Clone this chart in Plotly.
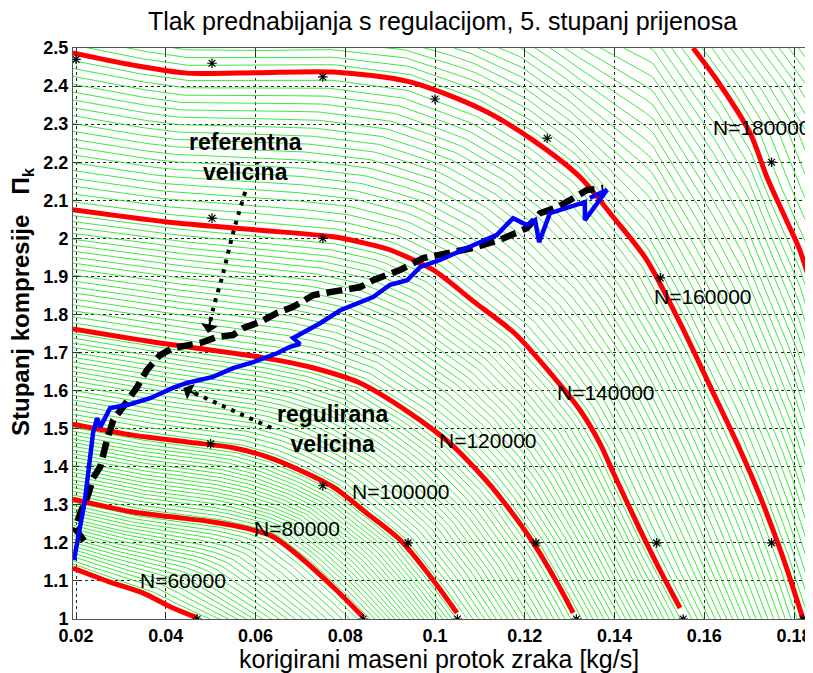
import numpy as np
import plotly.graph_objects as go

# ---------------- data ----------------
speeds = [60000, 80000, 100000, 120000, 140000, 160000, 180000]
speed_labels = ["N=60000", "N=80000", "N=100000", "N=120000", "N=140000", "N=160000", "N=180000"]
label_x = [0.0338, 0.0592, 0.0811, 0.1004, 0.1267, 0.1484, 0.1614]
label_y = [1.102, 1.239, 1.334, 1.470, 1.594, 1.846, 2.292]

n60_x = [0.0193, 0.0276, 0.0350, 0.0410, 0.0470]
n60_y = [1.134, 1.097, 1.068, 1.032, 1.003]

n80_x = [0.0193, 0.0327, 0.0416, 0.0505, 0.0581, 0.0639, 0.0699, 0.0773, 0.0840]
n80_y = [1.315, 1.281, 1.268, 1.255, 1.238, 1.216, 1.163, 1.084, 1.005]

n100_x = [0.0193, 0.0327, 0.0447, 0.0550, 0.0626, 0.0699, 0.0773, 0.0848, 0.0922, 0.0996, 0.1049]
n100_y = [1.512, 1.483, 1.465, 1.450, 1.426, 1.391, 1.347, 1.278, 1.208, 1.102, 1.016]

n120_x = [0.0193, 0.0387, 0.0610, 0.0721, 0.0833, 0.0944, 0.1033, 0.1107, 0.1145, 0.1219, 0.1272, 0.1308]
n120_y = [1.762, 1.725, 1.688, 1.662, 1.620, 1.541, 1.462, 1.373, 1.320, 1.200, 1.095, 1.016]

n140_x = [0.0193, 0.0403, 0.0603, 0.0773, 0.0848, 0.0899, 0.0996, 0.1085, 0.1178, 0.1257, 0.1323, 0.1368, 0.1397, 0.1457, 0.1501, 0.1546]
n140_y = [2.075, 2.043, 2.022, 2.004, 1.986, 1.970, 1.917, 1.835, 1.750, 1.646, 1.549, 1.460, 1.385, 1.234, 1.129, 1.029]

n160_x = [0.0193, 0.0327, 0.0447, 0.0603, 0.0773, 0.0944, 0.1107, 0.1218, 0.1323, 0.1397, 0.1472, 0.1546, 0.1620, 0.1680, 0.1725, 0.1775, 0.1820]
n160_y = [2.487, 2.455, 2.434, 2.435, 2.437, 2.411, 2.337, 2.258, 2.161, 2.056, 1.943, 1.778, 1.594, 1.444, 1.320, 1.163, 1.000]

n180_x = [0.1575, 0.1628, 0.1702, 0.1740, 0.1784, 0.1813, 0.1842]
n180_y = [2.500, 2.416, 2.277, 2.160, 2.045, 1.969, 1.860]

# measured map points (stars)
star_x = [0.0200, 0.0503, 0.0750, 0.1000, 0.1250, 0.1750, 0.1502, 0.0503, 0.0750,
          0.0500, 0.0750, 0.0940, 0.1225, 0.1494, 0.1750, 0.1050, 0.1315, 0.1553, 0.1820, 0.0470, 0.0840]
star_y = [2.470, 2.460, 2.424, 2.366, 2.263, 2.200, 1.896, 2.053, 2.000,
          1.460, 1.350, 1.200, 1.200, 1.200, 1.200, 1.000, 1.000, 1.000, 1.000, 1.000, 1.000]

# reference (referentna velicina) - black dashed
ref_x = [0.0218, 0.0198, 0.0210, 0.0227, 0.0238, 0.0254, 0.0269, 0.0283, 0.0305, 0.0336, 0.0358,
         0.0387, 0.0416, 0.0447, 0.0477, 0.0514, 0.0550, 0.0572, 0.0610, 0.0648, 0.0684, 0.0729,
         0.0759, 0.0789, 0.0833, 0.0862, 0.0922, 0.0974, 0.1012, 0.1085, 0.1145, 0.1205, 0.1234,
         0.1273, 0.1309, 0.1339, 0.1375]
ref_y = [1.205, 1.238, 1.280, 1.326, 1.370, 1.400, 1.470, 1.523, 1.557, 1.609, 1.654,
         1.693, 1.712, 1.720, 1.725, 1.741, 1.746, 1.764, 1.780, 1.804, 1.820, 1.851,
         1.856, 1.862, 1.872, 1.890, 1.917, 1.948, 1.956, 1.975, 1.996, 2.027, 2.066,
         2.082, 2.106, 2.127, 2.132]

# regulated (regulirana velicina) - blue
reg_x = [0.01955, 0.0220, 0.0238, 0.0247, 0.0254, 0.0267, 0.0276, 0.0314, 0.0365, 0.0416, 0.0447,
         0.0505, 0.0550, 0.0595, 0.0648, 0.0677, 0.0699, 0.0684, 0.0744, 0.0789, 0.0862, 0.0900,
         0.0938, 0.0967, 0.1011, 0.1085, 0.1138, 0.1174, 0.1205, 0.1223, 0.1232, 0.1256, 0.1301,
         0.1334, 0.1334, 0.1383, 0.1345]
reg_y = [1.155, 1.313, 1.489, 1.528, 1.504, 1.536, 1.554, 1.562, 1.580, 1.607, 1.620,
         1.636, 1.659, 1.675, 1.698, 1.715, 1.722, 1.738, 1.777, 1.811, 1.846, 1.878,
         1.890, 1.925, 1.943, 1.982, 2.009, 2.053, 2.035, 2.048, 1.990, 2.066, 2.082,
         2.095, 2.048, 2.127, 2.106]

# annotation arrows (dotted)
arr_ref_x = [0.0577, 0.0550, 0.0528, 0.0505, 0.0494]
arr_ref_y = [2.122, 2.014, 1.909, 1.812, 1.751]
arr_reg_x = [0.0635, 0.0439]
arr_reg_y = [1.502, 1.607]

x_ticks = [0.02, 0.04, 0.06, 0.08, 0.10, 0.12, 0.14, 0.16, 0.18]
x_ticktext = ["0.02", "0.04", "0.06", "0.08", "0.1", "0.12", "0.14", "0.16", "0.18"]
y_ticks = [1.0, 1.1, 1.2, 1.3, 1.4, 1.5, 1.6, 1.7, 1.8, 1.9, 2.0, 2.1, 2.2, 2.3, 2.4, 2.5]
y_ticktext = ["1", "1.1", "1.2", "1.3", "1.4", "1.5", "1.6", "1.7", "1.8", "1.9",
              "2", "2.1", "2.2", "2.3", "2.4", "2.5"]

x_range = [0.01933, 0.18401]
y_range = [1.0, 2.5]

curves = [(n60_x, n60_y), (n80_x, n80_y), (n100_x, n100_y), (n120_x, n120_y),
          (n140_x, n140_y), (n160_x, n160_y), (n180_x, n180_y)]

# ------------- fine speed lines (every 1000 rpm) blended between the red speed lines -------------
SX, SY = 0.18, 1.6   # normalisation so that x and y count equally along a curve
NS = 300


def resampled(xs, ys, lead=0.06, tail=0.07):
    u = np.asarray(xs, float) / SX
    v = np.asarray(ys, float) / SY
    d0 = np.array([u[0] - u[1], v[0] - v[1]]); d0 /= np.hypot(*d0)
    d1 = np.array([u[-1] - u[-2], v[-1] - v[-2]]); d1 /= np.hypot(*d1)
    u = np.concatenate([[u[0] + lead * d0[0]], u, [u[-1] + tail * d1[0]]])
    v = np.concatenate([[v[0] + lead * d0[1]], v, [v[-1] + tail * d1[1]]])
    s = np.concatenate([[0.0], np.cumsum(np.hypot(np.diff(u), np.diff(v)))])
    s /= s[-1]
    t = np.linspace(0.0, 1.0, NS)
    return np.interp(t, s, u) * SX, np.interp(t, s, v) * SY


res = [resampled(xs, ys) for xs, ys in curves]

# The N=180000 line leaves the plot at the top; continue it above the plot
# with the 140000->160000 spacing so the fine lines above N=160000 stay parallel.
(x14, y14), (x16, y16) = res[4], res[5]
gx_pred, gy_pred = 2 * x16 - x14, 2 * y16 - y14
keep = np.where((gy_pred > 2.68) & (gx_pred < 0.128))[0]
keep = keep[: np.argmax(np.diff(np.concatenate([keep, [10 ** 6]])) > 1) + 1]
hx, hy = resampled(n180_x, n180_y, lead=0.0, tail=0.07)
top_dir = np.array([n180_x[0] - n180_x[1], n180_y[0] - n180_y[1]])
join_x = n180_x[0] + top_dir[0] * (0.14 / top_dir[1])
join_y = n180_y[0] + 0.14
full180_x = np.concatenate([gx_pred[keep], [join_x], hx])
full180_y = np.concatenate([gy_pred[keep], [join_y], hy])
res[6] = resampled(full180_x, full180_y, lead=0.0, tail=0.0)

gxs, gys = [], []
for k in range(len(res) - 1):
    (xa, ya), (xb, yb) = res[k], res[k + 1]
    steps = int((speeds[k + 1] - speeds[k]) / 1000)
    for j in range(1, steps):
        f = j / steps
        gxs.extend(list((1 - f) * xa + f * xb) + [None])
        gys.extend(list((1 - f) * ya + f * yb) + [None])
# beyond the last red line: the same line repeated at the local 1000 rpm spacing
xl_, yl_ = resampled(n180_x, n180_y, lead=0.3, tail=0.3)
for j in range(1, 16):
    gxs.extend(list(xl_ + j * 0.00215) + [None])
    gys.extend(list(yl_) + [None])

fig = go.Figure()

fig.add_trace(go.Scatter(x=gxs, y=gys, mode="lines",
                         line=dict(color="rgb(40,228,40)", width=0.9),
                         hoverinfo="skip", showlegend=False))

for xs, ys in curves:
    fig.add_trace(go.Scatter(x=xs, y=ys, mode="lines",
                             line=dict(color="#ff0000", width=5, shape="spline", smoothing=0.8),
                             hoverinfo="skip", showlegend=False))

fig.add_trace(go.Scatter(x=star_x, y=star_y, mode="markers",
                         marker=dict(symbol="asterisk-open", size=8, color="black",
                                     line=dict(color="black", width=1.2)),
                         showlegend=False))

fig.add_trace(go.Scatter(x=ref_x, y=ref_y, mode="lines",
                         line=dict(color="black", width=6.5, dash="16px,7px"),
                         showlegend=False))
fig.add_trace(go.Scatter(x=reg_x, y=reg_y, mode="lines",
                         line=dict(color="#0000ff", width=4.5),
                         showlegend=False))

for ax_, ay_ in [(arr_ref_x, arr_ref_y), (arr_reg_x, arr_reg_y)]:
    fig.add_trace(go.Scatter(x=ax_, y=ay_, mode="lines",
                             line=dict(color="black", width=4, dash="4px,6px", shape="spline"),
                             showlegend=False))

FONT = "Liberation Sans, Arial, sans-serif"
annotations = []
for t, lx, ly in zip(speed_labels, label_x, label_y):
    annotations.append(dict(x=lx, y=ly, xref="x", yref="y", text=t, showarrow=False,
                            xanchor="left", yanchor="middle",
                            font=dict(family=FONT, size=21, color="black")))

annotations.append(dict(x=0.0577, y=2.2136, xref="x", yref="y",
                        text="<b>referentna</b><br><b>velicina</b>", showarrow=False,
                        xanchor="center", yanchor="middle", align="center",
                        font=dict(family=FONT, size=23, color="black")))
annotations.append(dict(x=0.0771, y=1.4991, xref="x", yref="y",
                        text="<b>regulirana</b><br><b>velicina</b>", showarrow=False,
                        xanchor="center", yanchor="middle", align="center",
                        font=dict(family=FONT, size=23, color="black")))
# arrow heads
annotations.append(dict(x=arr_ref_x[-1], y=arr_ref_y[-1], xref="x", yref="y", text="",
                        showarrow=True, ax=3, ay=-16, arrowhead=1, arrowsize=1.3,
                        arrowwidth=2.2, arrowcolor="black"))
annotations.append(dict(x=arr_reg_x[-1], y=arr_reg_y[-1], xref="x", yref="y", text="",
                        showarrow=True, ax=16, ay=8, arrowhead=1, arrowsize=1.3,
                        arrowwidth=2.2, arrowcolor="black"))

# The page body adds an 8 px offset, so the figure is 8 px smaller than the window.
W, H = 805, 665
L, R_, T, B = 65, 1, 40, 54
PW, PH = W - L - R_, H - T - B


def px_to_paper(px, py):
    # px, py are positions in the screenshot (window) pixels
    return (px - 8 - L) / PW, (H - B - (py - 8)) / PH


xl = px_to_paper(439, 659)
annotations.append(dict(x=xl[0], y=xl[1], xref="paper", yref="paper",
                        text="korigirani maseni protok zraka [kg/s]", showarrow=False,
                        xanchor="center", yanchor="middle",
                        font=dict(family=FONT, size=25, color="black")))
yl = px_to_paper(22, 302)
annotations.append(dict(x=yl[0], y=yl[1], xref="paper", yref="paper",
                        text="<b>Stupanj kompresije\u00a0\u00a0\u00a0Π<sub>k</sub></b>",
                        showarrow=False, textangle=-90,
                        xanchor="center", yanchor="middle",
                        font=dict(family=FONT, size=24, color="black")))

axis_common = dict(showline=True, linecolor="#555555", linewidth=1, mirror="ticks",
                   ticks="inside", ticklen=6, tickcolor="#333333",
                   showgrid=True, gridcolor="#222222", gridwidth=1, griddash="3px,3px",
                   zeroline=False,
                   tickfont=dict(family=FONT, size=18, color="black", weight="bold"))

fig.update_layout(
    width=W, height=H,
    margin=dict(l=L, r=R_, t=T, b=B),
    paper_bgcolor="white", plot_bgcolor="white",
    showlegend=False,
    title=dict(text="Tlak prednabijanja s regulacijom, 5. stupanj prijenosa",
               x=0.5, xref="paper", xanchor="center",
               y=1 - 13 / H, yref="container", yanchor="middle",
               font=dict(family=FONT, size=25, color="black")),
    xaxis=dict(range=x_range, tickvals=x_ticks, ticktext=x_ticktext, **axis_common),
    yaxis=dict(range=y_range, tickvals=y_ticks, ticktext=y_ticktext, **axis_common),
    annotations=annotations,
)

fig.write_html("out.html")
